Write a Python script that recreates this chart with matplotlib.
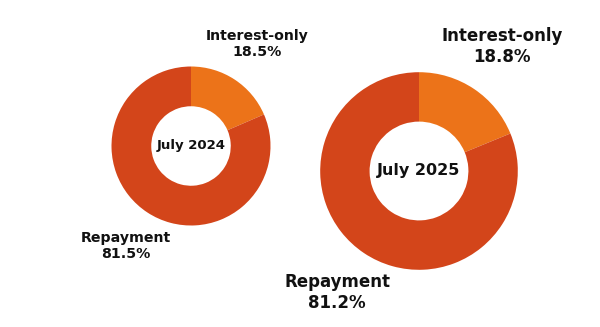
import matplotlib
matplotlib.use("Agg")
import matplotlib.pyplot as plt

# Share of mortgage lending by repayment type
periods = ["July 2024", "July 2025"]
categories = ["Interest-only", "Repayment"]
interest_only = [18.5, 18.8]
repayment = [81.5, 81.2]

colors = ["#EC7319", "#D3451A"]

W, H = 600, 327
fig = plt.figure(figsize=(W / 100, H / 100), dpi=100)
ax = fig.add_axes([0, 0, 1, 1])

def pt(px):
    return px * 72 / 100

# layout for each donut: centre, radius, font sizes, label anchors (pixel coords, y from top)
layout = [
    dict(c=(191, 146), r=79.5, fs_lab=14.1, fs_mid=13.3,
         io=(257, 44.4), rp=(126, 246), ls_io=1.17, ls_rp=1.2),
    dict(c=(419, 171), r=98.8, fs_lab=16.6, fs_mid=16.0,
         io=(502, 46.7), rp=(337, 292.4), ls_io=1.25, ls_rp=1.2),
]

for i, lay in enumerate(layout):
    cx, cy = lay["c"]
    vals = [interest_only[i], repayment[i]]
    ax.pie(vals, colors=colors, startangle=90, counterclock=False,
           center=(cx, H - cy), radius=lay["r"],
           wedgeprops=dict(width=lay["r"] * 0.5, linewidth=0),
           frame=True)
    ax.text(cx, H - cy, periods[i], ha="center", va="center",
            fontsize=pt(lay["fs_mid"]), fontweight="bold", color="#111111")
    for name, val, pos, ls in [(categories[0], vals[0], lay["io"], lay["ls_io"]),
                               (categories[1], vals[1], lay["rp"], lay["ls_rp"])]:
        ax.text(pos[0], H - pos[1], f"{name}\n{val:.1f}%", ha="center",
                va="center", multialignment="center", linespacing=ls,
                fontsize=pt(lay["fs_lab"]), fontweight="bold", color="#111111")

ax.set_xlim(0, W)
ax.set_ylim(0, H)
ax.set_aspect("equal")
ax.axis("off")
fig.savefig("out.png", dpi=100, facecolor="white")
